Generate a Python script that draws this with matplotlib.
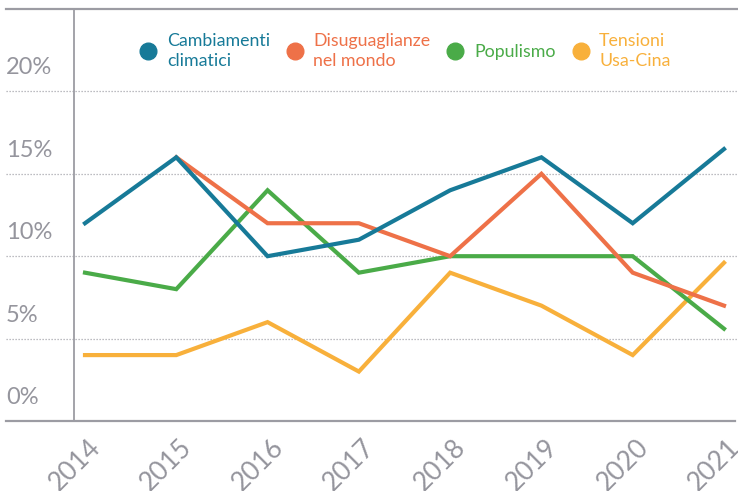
import matplotlib
matplotlib.use("Agg")
import matplotlib.pyplot as plt
from matplotlib.lines import Line2D
from matplotlib.transforms import ScaledTranslation

years = [2014, 2015, 2016, 2017, 2018, 2019, 2020, 2021]
year_labels = ["2014", "2015", "2016", "2017", "2018", "2019", "2020", "2021"]
series_names = ["Cambiamenti\nclimatici", "Disuguaglianze\nnel mondo", "Populismo", "Tensioni\nUsa-Cina"]
cambiamenti = [12, 16, 10, 11, 14, 16, 12, 16.5]
disuguaglianze = [None, 16, 12, 12, 10, 15, 9, 7]
populismo = [9, 8, 14, 9, 10, 10, 10, 5.6]
tensioni = [4, 4, 6, 3, 9, 7, 4, 9.6]
y_ticks = [0, 5, 10, 15, 20]
y_tick_labels = ["0%", "5%", "10%", "15%", "20%"]

colors = ["#177a98", "#ee7148", "#4aab48", "#f8b03b"]
gray = "#9c9ca3"
text_gray = "#95959d"

plt.rcParams['font.family'] = ['Lato', 'DejaVu Sans']

W, H = 738, 491
fig = plt.figure(figsize=(W / 100, H / 100), dpi=100)
ax = fig.add_axes([74 / W, 70 / H, (W - 74) / W, (421 - 9) / H])
ax.set_xlim(2014 - 11 / 91.3, 2021 + 14 / 91.3)
ax.set_ylim(0, 25)

for s in ["top", "right", "bottom"]:
    ax.spines[s].set_visible(False)
ax.spines["left"].set_color(gray)
ax.spines["left"].set_linewidth(1.3)

yt = ax.get_yaxis_transform()
left_ext = (6 - 74) / (W - 74)
ax.plot([left_ext, 0.995], [0, 0], transform=yt, color=gray, lw=1.6, clip_on=False, zorder=1)
ax.plot([left_ext, 1.0], [25, 25], transform=yt, color=gray, lw=1.6, clip_on=False, zorder=1)
for v in y_ticks[1:]:
    ax.plot([left_ext, 1.0], [v, v], transform=yt, color="#a8a8ae", lw=0.9,
            linestyle=(0, (1, 1.4)), clip_on=False, zorder=1)

ax.set_yticks([])
for v, lab in zip(y_ticks, y_tick_labels):
    off = ScaledTranslation(0, 13 / 100, fig.dpi_scale_trans)
    ax.text(left_ext, v, lab, transform=yt + off, ha="left", va="bottom",
            fontsize=17, color=text_gray)

series = [tensioni, populismo, disuguaglianze, cambiamenti]
cols = [colors[3], colors[2], colors[1], colors[0]]
for vals, c in zip(series, cols):
    xs = [y for y, v in zip(years, vals) if v is not None]
    ys = [v for v in vals if v is not None]
    ax.plot(xs, ys, color=c, lw=3.0, solid_joinstyle="miter", zorder=3)

ax.set_xticks(years)
ax.set_xticklabels(year_labels, rotation=45, ha="right", va="top",
                   rotation_mode="anchor", fontsize=19, color=text_gray)
ax.tick_params(axis="x", length=0, pad=10)
for lab in ax.get_xticklabels():
    lab.set_transform(lab.get_transform() + ScaledTranslation(3 / 100, 0, fig.dpi_scale_trans))

handles = [Line2D([], [], marker="o", linestyle="", markersize=12, color=c) for c in colors]
leg = ax.legend(handles, series_names, ncol=4, loc="center left",
                bbox_to_anchor=((141 - 74) / (W - 74), (421 - 51) / 412),
                frameon=False, handlelength=0.8, handletextpad=0.65,
                columnspacing=1.0, fontsize=12.8, labelcolor="linecolor",
                borderpad=0, borderaxespad=0, labelspacing=0)
for t in leg.get_texts():
    t.set_linespacing(1.3)

fig.savefig("out.png", dpi=100)
